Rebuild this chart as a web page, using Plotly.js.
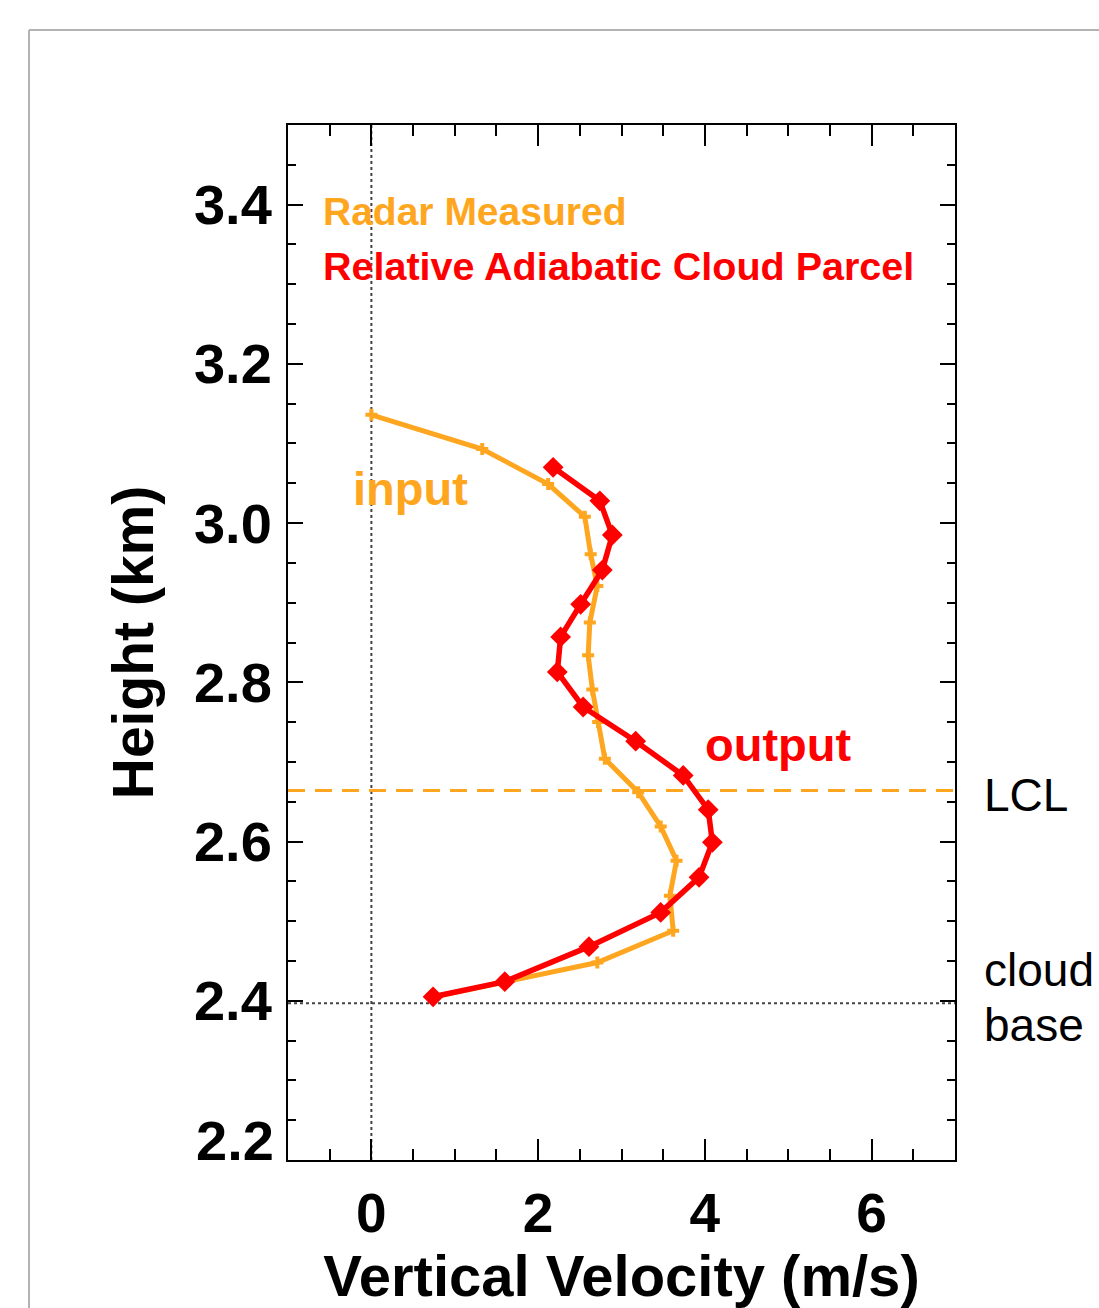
<!DOCTYPE html>
<html>
<head>
<meta charset="utf-8">
<script src="https://cdn.plot.ly/plotly-3.0.1.min.js"></script>
<style>
  html, body { margin: 0; padding: 0; background: #ffffff; }
  #chart { width: 1099px; height: 1308px; }
</style>
</head>
<body>
<div id="chart"></div>
<script>
// Radar measured vertical velocity (m/s) and heights (km)
const radarVelocity = [0.00, 1.33, 2.12, 2.56, 2.63, 2.71, 2.62, 2.60, 2.65, 2.72, 2.80, 3.20, 3.47, 3.66, 3.58, 3.62, 2.71, 0.75];
const radarHeight   = [3.136, 3.093, 3.049, 3.008, 2.961, 2.921, 2.875, 2.834, 2.791, 2.750, 2.704, 2.662, 2.619, 2.576, 2.532, 2.488, 2.448, 2.405];

// Relative adiabatic cloud parcel
const parcelVelocity = [2.18, 2.74, 2.89, 2.77, 2.51, 2.27, 2.23, 2.54, 3.17, 3.74, 4.04, 4.09, 3.93, 3.47, 2.61, 1.60, 0.74];
const parcelHeight   = [3.070, 3.028, 2.985, 2.941, 2.898, 2.857, 2.813, 2.769, 2.726, 2.683, 2.640, 2.599, 2.555, 2.511, 2.468, 2.424, 2.405];

// Reference levels
const lclHeight = 2.664;
const cloudBaseHeight = 2.397;

// Axis ticks
const xTickVals = [0, 2, 4, 6];
const xTickText = ['0', '2', '4', '6'];
const yTickVals = [2.2, 2.4, 2.6, 2.8, 3.0, 3.2, 3.4];
const yTickText = ['', '2.4', '2.6', '2.8', '3.0', '3.2', '3.4'];

const ORANGE = '#FFA620';
const RED = '#FF0000';
const FONT = 'Liberation Sans, Arial, Helvetica, sans-serif';

const traces = [
  {
    x: radarVelocity, y: radarHeight, type: 'scatter', mode: 'lines+markers',
    name: 'Radar Measured',
    line: { color: ORANGE, width: 5 },
    marker: { symbol: 'cross', size: 10, color: ORANGE }
  },
  {
    x: parcelVelocity, y: parcelHeight, type: 'scatter', mode: 'lines+markers',
    name: 'Relative Adiabatic Cloud Parcel',
    line: { color: RED, width: 5.5 },
    marker: { symbol: 'diamond', size: 16, color: RED }
  }
];

const L = 288, R = 144, T = 125, B = 148, W = 1099, H = 1308;
const pw = W - L - R, ph = H - T - B;
const px = v => (v - L) / pw;
const py = v => (H - B - v) / ph;

const layout = {
  width: W, height: H,
  margin: { l: L, r: R, t: T, b: B, pad: 0 },
  paper_bgcolor: '#ffffff', plot_bgcolor: '#ffffff',
  showlegend: false,
  font: { family: FONT, color: '#000000' },
  xaxis: {
    range: [-1, 7], tickmode: 'array', tickvals: xTickVals, ticktext: xTickText,
    ticks: 'inside', ticklen: 21, tickwidth: 2, tickcolor: '#000',
    minor: { dtick: 0.5, tick0: 0, ticks: 'inside', ticklen: 11, tickwidth: 2, tickcolor: '#000', showgrid: false },
    showline: true, linecolor: '#000', linewidth: 2, mirror: 'allticks',
    showgrid: false, zeroline: false,
    tickfont: { family: FONT, size: 55, weight: 'bold', color: '#000' },
    ticklabelstandoff: 4,
    title: { text: 'Vertical Velocity (m/s)', font: { family: FONT, size: 58, weight: 'bold', color: '#000' }, standoff: 0 }
  },
  yaxis: {
    range: [2.2, 3.5], tickmode: 'array', tickvals: yTickVals, ticktext: yTickText,
    ticks: 'inside', ticklen: 15, tickwidth: 2, tickcolor: '#000',
    minor: { dtick: 0.05, tick0: 2.2, ticks: 'inside', ticklen: 8, tickwidth: 2, tickcolor: '#000', showgrid: false },
    showline: true, linecolor: '#000', linewidth: 2, mirror: 'allticks',
    showgrid: false, zeroline: false,
    tickfont: { family: FONT, size: 56, weight: 'bold', color: '#000' },
    ticklabelstandoff: 3,
    title: { text: 'Height (km)', font: { family: FONT, size: 57, weight: 'bold', color: '#000' }, standoff: 22 }
  },
  shapes: [
    // x = 0 reference (dotted)
    { type: 'line', xref: 'x', yref: 'paper', x0: 0, x1: 0, y0: 0, y1: 1,
      line: { color: '#444', width: 2, dash: 'dot' }, layer: 'below' },
    // cloud base (dotted)
    { type: 'line', xref: 'paper', yref: 'y', x0: 0, x1: 1, y0: cloudBaseHeight, y1: cloudBaseHeight,
      line: { color: '#444', width: 2, dash: 'dot' }, layer: 'below' },
    // LCL (dashed orange)
    { type: 'line', xref: 'paper', yref: 'y', x0: 0, x1: 1, y0: lclHeight, y1: lclHeight,
      line: { color: ORANGE, width: 3, dash: '17px,10px' }, layer: 'below' },
    // slide frame
    { type: 'line', xref: 'paper', yref: 'paper', x0: px(29), x1: px(1110), y0: py(30), y1: py(30),
      line: { color: '#b3b3b3', width: 2 } },
    { type: 'line', xref: 'paper', yref: 'paper', x0: px(29), x1: px(29), y0: py(30), y1: py(1320),
      line: { color: '#b3b3b3', width: 2 } }
  ],
  annotations: [
    { text: 'Radar Measured', xref: 'x', yref: 'y', x: -0.6, y: 3.391, xanchor: 'left', yanchor: 'middle',
      showarrow: false, font: { family: FONT, size: 39, weight: 'bold', color: ORANGE } },
    { text: 'Relative Adiabatic Cloud Parcel', xref: 'x', yref: 'y', x: -0.6, y: 3.323, xanchor: 'left', yanchor: 'middle',
      showarrow: false, font: { family: FONT, size: 39.5, weight: 'bold', color: RED } },
    { text: 'input', xref: 'x', yref: 'y', x: -0.24, y: 3.043, xanchor: 'left', yanchor: 'middle',
      showarrow: false, font: { family: FONT, size: 47, weight: 'bold', color: ORANGE } },
    { text: 'output', xref: 'x', yref: 'y', x: 3.98, y: 2.722, xanchor: 'left', yanchor: 'middle',
      showarrow: false, font: { family: FONT, size: 47, weight: 'bold', color: RED } },
    { text: 'LCL', xref: 'paper', yref: 'y', x: px(982), y: 2.659, xanchor: 'left', yanchor: 'middle',
      showarrow: false, font: { family: FONT, size: 46, color: '#000' } },
    { text: 'cloud', xref: 'paper', yref: 'y', x: px(982), y: 2.2 + (1160 - 970) / 795, xanchor: 'left', yanchor: 'middle',
      showarrow: false, font: { family: FONT, size: 46, color: '#000' } },
    { text: 'base', xref: 'paper', yref: 'y', x: px(982), y: 2.2 + (1160 - 1025) / 795, xanchor: 'left', yanchor: 'middle',
      showarrow: false, font: { family: FONT, size: 46, color: '#000' } },
    // bottom y tick label, lifted as in the original
    { text: '2.2', xref: 'paper', yref: 'y', x: px(276), y: 2.2, xanchor: 'right', yanchor: 'middle', yshift: 20,
      showarrow: false, font: { family: FONT, size: 56, weight: 'bold', color: '#000' } }
  ]
};

Plotly.newPlot('chart', traces, layout, { displayModeBar: false, staticPlot: true });
</script>
</body>
</html>
